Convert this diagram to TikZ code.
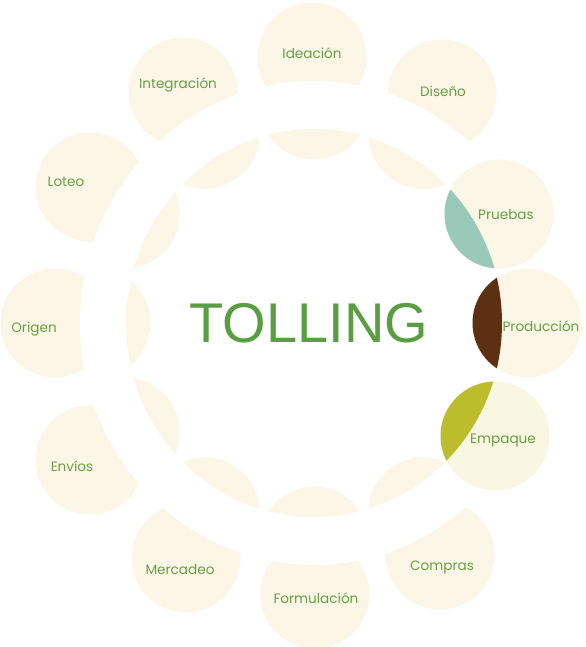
\documentclass[tikz,border=0pt]{standalone}
\usepackage{fontspec}
\setmainfont{Liberation Sans}
\newfontfamily\labelfont{Poppins}
\definecolor{cream}{HTML}{FCF6E6}
\definecolor{creamb}{HTML}{F9F6E1}
\definecolor{lblgreen}{HTML}{66A046}
\definecolor{titlegreen}{HTML}{5A9E42}
\definecolor{tealleaf}{HTML}{98C9B9}
\definecolor{brownleaf}{HTML}{5C3011}
\definecolor{oliveleaf}{HTML}{BCBD2C}
\tikzset{
  petal/.style={fill=cream},
  lbl/.style={font=\labelfont\fontsize{10.2}{12}\selectfont, text=lblgreen, inner sep=0pt},
}
\begin{document}
\begin{tikzpicture}[x=0.75pt,y=-0.75pt]
\useasboundingbox (0,0) rectangle (586,647);
\fill[white] (0,0) rectangle (586,647);
% outer circles of the nine pale items
\foreach \p in {(312,57),(442,94),(440,555),(315,594),(186,558),(90,460),(55,323),(90,187),(183,92)}{
  \fill[petal] \p circle (54.5);
}
% white ring
\fill[white,even odd rule] (314,323) ellipse [x radius=234, y radius=242]
  (314,323) ellipse [x radius=188, y radius=194];
% inner leaves of the nine pale items
\begin{scope}
  \clip (314,323) ellipse [x radius=188, y radius=194];
  \foreach \a in {90,60,-60,-90,-120,-150,180,150,120}{
    \fill[petal] ({314+218*cos(\a)},{323-218*sin(\a)}) circle (54.5);
  }
\end{scope}
% the three active items
\fill[petal] (499,214) circle (54.5);
\fill[petal] (527,323) circle (54.5);
\fill[creamb] (495,436) circle (54.5);
\begin{scope}
  \clip (314,323) ellipse [x radius=188, y radius=194];
  \fill[tealleaf] (499,214) circle (54.5);
  \fill[brownleaf] (527,323) circle (54.5);
  \fill[oliveleaf] (495,436) circle (54.5);
\end{scope}
% labels
\node[font=\fontsize{42}{50}\selectfont, text=titlegreen, inner sep=0pt] (title) at (309,323) {TOLLING};
\node[lbl] (ideacion) at (312,53) {Ideación};
\node[lbl] (diseno) at (443,91) {Diseño};
\node[lbl] (pruebas) at (506,215) {Pruebas};
\node[lbl] (produccion) at (541,326) {Producción};
\node[lbl] (empaque) at (503,441) {Empaque};
\node[lbl] (compras) at (442,567) {Compras};
\node[lbl] (formulacion) at (316,598) {Formulación};
\node[lbl] (mercadeo) at (180,570) {Mercadeo};
\node[lbl] (envios) at (72,466) {Envíos};
\node[lbl] (origen) at (34,329) {Origen};
\node[lbl] (loteo) at (66,182) {Loteo};
\node[lbl] (integracion) at (178,85) {Integración};
\end{tikzpicture}
\end{document}
